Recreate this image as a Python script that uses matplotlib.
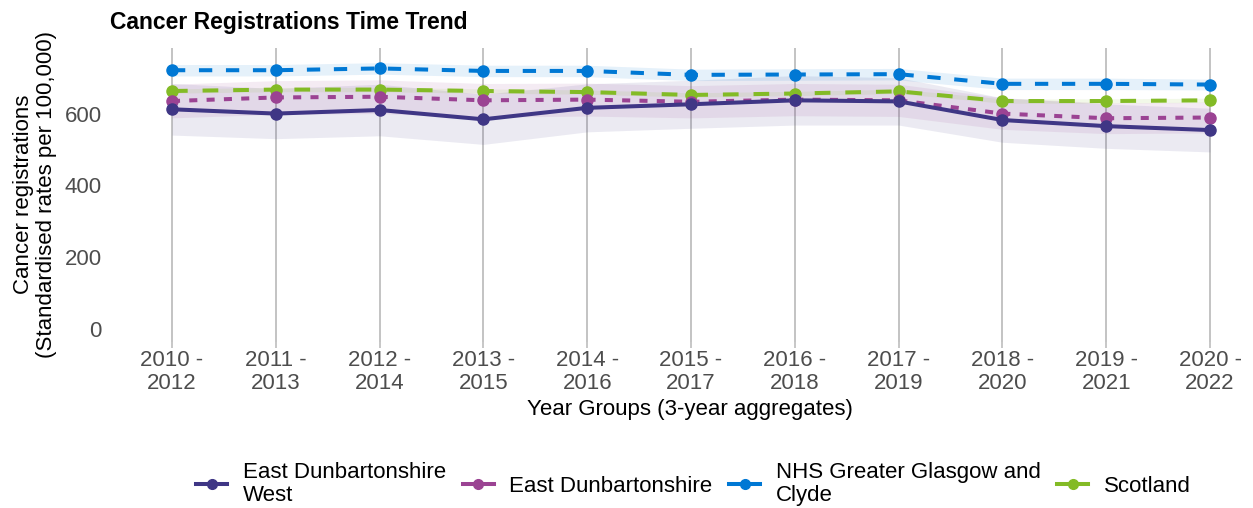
import matplotlib
matplotlib.use('Agg')
import matplotlib.pyplot as plt
from matplotlib.lines import Line2D

plt.rcParams['font.family'] = ['Liberation Sans', 'DejaVu Sans']

# year groups (3-year aggregates)
year_groups = ['2010 -\n2012', '2011 -\n2013', '2012 -\n2014', '2013 -\n2015',
               '2014 -\n2016', '2015 -\n2017', '2016 -\n2018', '2017 -\n2019',
               '2018 -\n2020', '2019 -\n2021', '2020 -\n2022']

# standardised rates per 100,000
edw = [612, 600, 610, 584, 616, 626, 637, 634, 582, 565, 554]
edw_lo = [540, 530, 538, 514, 549, 559, 568, 568, 520, 503, 493]
edw_hi = [684, 670, 682, 654, 683, 693, 706, 700, 644, 627, 615]

ed = [635, 645, 647, 637, 639, 633, 639, 637, 600, 587, 589]
ed_lo = [588, 598, 600, 590, 593, 588, 594, 592, 556, 544, 546]
ed_hi = [682, 692, 694, 684, 685, 678, 684, 682, 644, 630, 632]

ggc = [721, 721, 726, 719, 719, 708, 709, 710, 683, 683, 681]
ggc_lo = [705, 705, 710, 703, 703, 692, 693, 694, 667, 667, 666]
ggc_hi = [737, 737, 742, 735, 735, 724, 725, 726, 699, 699, 696]

scot = [663, 667, 667, 663, 660, 652, 656, 662, 635, 635, 637]
scot_lo = [657, 661, 661, 657, 654, 646, 650, 656, 629, 629, 631]
scot_hi = [669, 673, 673, 669, 666, 658, 662, 668, 641, 641, 643]

names = ['East Dunbartonshire\nWest', 'East Dunbartonshire',
         'NHS Greater Glasgow and\nClyde', 'Scotland']
colours = ['#3F3685', '#9B4393', '#0078D4', '#83BB26']

x = list(range(len(year_groups)))

fig = plt.figure(figsize=(12.53, 5.08), dpi=100)
ax = fig.add_axes([110 / 1253, (508 - 341.5) / 508, 1143 / 1253, 293.5 / 508])

series = [
    (edw, edw_lo, edw_hi, colours[0], '-'),
    (ed, ed_lo, ed_hi, colours[1], (0, (2.0, 2.3))),
    (ggc, ggc_lo, ggc_hi, colours[2], (0, (3.3, 3.4))),
    (scot, scot_lo, scot_hi, colours[3], (0, (3.9, 3.7))),
]

for vals, lo, hi, col, ls in series:
    ax.fill_between(x, lo, hi, color=col, alpha=0.1, linewidth=0, zorder=2)

# draw order so the local area sits on top
for i in [2, 3, 1, 0]:
    vals, lo, hi, col, ls = series[i]
    ax.plot(x, vals, color=col, linestyle=ls, linewidth=2.9, zorder=4)
    ax.plot(x, vals, color=col, linestyle='none', marker='o', markersize=8, zorder=5)

ax.set_xlim(-0.597, 10.414)
ax.set_ylim(-36, 783)
ax.set_yticks([0, 200, 400, 600])
ax.set_xticks(x)
ax.set_xticklabels(year_groups, linespacing=1.12)
ax.tick_params(axis='y', length=0, labelsize=16, labelcolor='#4D4D4D', pad=6)
ax.tick_params(axis='x', length=4, color='#BEBEBE', width=1.2, labelsize=16,
               labelcolor='#4D4D4D', pad=2)
ax.grid(axis='x', color='#BEBEBE', linewidth=1.3, zorder=1)
ax.grid(axis='y', visible=False)
for s in ax.spines.values():
    s.set_visible(False)

ax.set_ylabel('Cancer registrations\n(Standardised rates per 100,000)', fontsize=16,
              linespacing=1.12)
ax.yaxis.set_label_coords(-0.0656, 0.5)
ax.set_xlabel('Year Groups (3-year aggregates)', fontsize=16)
ax.xaxis.set_label_coords(0.507, -0.233)
ax.xaxis.label.set_va('center')
ax.yaxis.label.set_va('center')

fig.text(110 / 1253, 1 - 22 / 508, 'Cancer Registrations Time Trend',
         fontsize=16.5, fontweight='bold', va='center', ha='left')

handles = [Line2D([0], [0], color=c, linewidth=2.9, marker='o', markersize=7)
           for c in colours]
leg = fig.legend(handles, names, loc='center', bbox_to_anchor=(0.5535, 1 - 484 / 508),
                 ncol=4, frameon=False, fontsize=16, handlelength=1.4,
                 handletextpad=0.7, columnspacing=0.75)
for t in leg.get_texts():
    t.set_linespacing(1.12)

fig.savefig('out.png', dpi=100)
